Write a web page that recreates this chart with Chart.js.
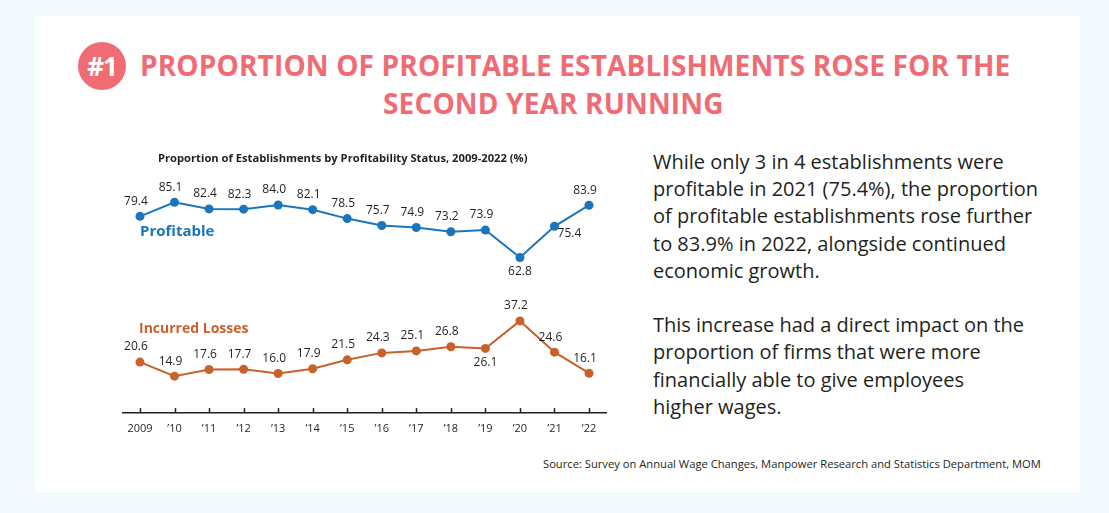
<!DOCTYPE html>
<html><head><meta charset="utf-8">
<script src="https://cdn.jsdelivr.net/npm/chart.js@4.4.1/dist/chart.umd.min.js"></script>
<style>
html,body{margin:0;padding:0}
body{width:1109px;height:513px;background:#F2FAFE;position:relative;overflow:hidden;font-family:"Open Sans",sans-serif}
#panel{position:absolute;left:35px;top:16px;width:1045px;height:476px;background:#fff}
#badge{position:absolute;left:78px;top:42px;width:48px;height:48px;border-radius:50%;background:#F06B74;color:#fff;font:700 26px/48px "Open Sans",sans-serif;text-align:center;letter-spacing:-1px}
.t{position:absolute;color:#F06B74;font-weight:700;font-size:28px;line-height:32px;white-space:nowrap;letter-spacing:0.15px}
#body{position:absolute;left:653px;top:148px;font-size:20px;line-height:27.2px;color:#231F20;white-space:nowrap}
#wrap{position:absolute;left:100px;top:140px;width:530px;height:310px}
.ann{position:absolute;font-weight:700;white-space:nowrap}
#src{position:absolute;left:543px;top:456px;font-size:11.2px;color:#231F20;white-space:nowrap}
</style></head><body>
<div id="panel"></div>
<div id="badge">#1</div>
<div class="t" style="left:140px;top:49px">PROPORTION OF PROFITABLE ESTABLISHMENTS ROSE FOR THE</div>
<div class="t" style="left:383px;top:87px">SECOND YEAR RUNNING</div>
<div id="body">While only 3 in 4 establishments were<br>profitable in 2021 (75.4%), the proportion<br>of profitable establishments rose further<br>to 83.9% in 2022, alongside continued<br>economic growth.<br><br>This increase had a direct impact on the<br>proportion of firms that were more<br>financially able to give employees<br>higher wages.</div>
<div id="wrap"><canvas id="c"></canvas></div>
<div class="ann" style="left:158px;top:150px;font-size:11.2px;color:#231F20">Proportion of Establishments by Profitability Status, 2009-2022 (%)</div>
<div class="ann" style="left:140px;top:220px;font-size:15px;color:#1B75BC">Profitable</div>
<div class="ann" style="left:139px;top:318px;font-size:14px;color:#C8612A">Incurred Losses</div>
<div id="src">Source: Survey on Annual Wage Changes, Manpower Research and Statistics Department, MOM</div>
<script>
const years = ['2009','’10','’11','’12','’13','’14','’15','’16','’17','’18','’19','’20','’21','’22'];
const profitable = [79.4,85.1,82.4,82.3,84.0,82.1,78.5,75.7,74.9,73.2,73.9,62.8,75.4,83.9];
const incurredLosses = [20.6,14.9,17.6,17.7,16.0,17.9,21.5,24.3,25.1,26.8,26.1,37.2,24.6,16.1];
const labelPlacement = [{11:'below',12:'belowRight'},{10:'below'}];

const valueLabels = {
  id:'valueLabels',
  afterDatasetsDraw(chart){
    const ctx = chart.ctx;
    ctx.save();
    ctx.font = '12px "Open Sans", sans-serif';
    ctx.fillStyle = '#231F20';
    ctx.textAlign = 'center';
    ctx.textBaseline = 'middle';
    chart.data.datasets.forEach((ds,i)=>{
      chart.getDatasetMeta(i).data.forEach((pt,j)=>{
        const pl = (labelPlacement[i]||{})[j] || 'above';
        let x = pt.x - 4, y = pt.y - 15;
        if (pl==='below'){ x = pt.x; y = pt.y + 14; }
        if (pl==='belowRight'){ x = pt.x + 15; y = pt.y + 7; }
        ctx.fillText(ds.data[j].toFixed(1), x, y);
      });
    });
    ctx.restore();
  },
  afterDraw(chart){
    const s = chart.scales.x, ctx = chart.ctx;
    ctx.save();
    ctx.strokeStyle = '#231F20'; ctx.lineWidth = 1.5;
    s.ticks.forEach((t,k)=>{
      const x = Math.round(s.getPixelForTick(k))+0.5;
      ctx.beginPath(); ctx.moveTo(x, s.top-5); ctx.lineTo(x, s.top); ctx.stroke();
    });
    ctx.restore();
  }
};

new Chart(document.getElementById('c'),{
  type:'line',
  data:{labels:years,datasets:[
    {label:'Profitable',data:profitable,borderColor:'#1B75BC',backgroundColor:'#1B75BC',borderWidth:2,pointRadius:4.5,pointBorderWidth:0,tension:0},
    {label:'Incurred Losses',data:incurredLosses,borderColor:'#C8612A',backgroundColor:'#C8612A',borderWidth:2,pointRadius:4.5,pointBorderWidth:0,tension:0}
  ]},
  options:{
    responsive:true,maintainAspectRatio:false,animation:false,
    layout:{padding:{left:22.7,right:23.7,top:50.1,bottom:5.7}},
    plugins:{legend:{display:false},tooltip:{enabled:false}},
    scales:{
      x:{offset:true,grid:{display:false,drawTicks:false},border:{display:true,color:'#231F20',width:1.5},
         ticks:{padding:9,color:'#231F20',font:{family:'"Open Sans", sans-serif',size:11}}},
      y:{display:false,min:0,max:90}
    }
  },
  plugins:[valueLabels]
});
</script>
</body></html>
